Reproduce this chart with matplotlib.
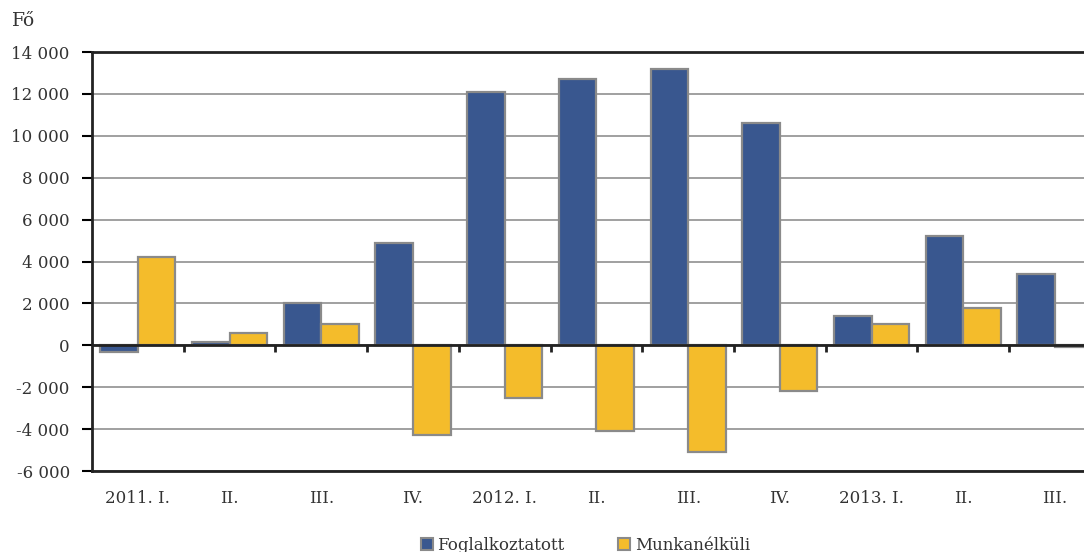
import numpy as np
import matplotlib.pyplot as plt
from matplotlib.ticker import FuncFormatter
from matplotlib.patches import Patch

quarters = ["2011. I.", "II.", "III.", "IV.", "2012. I.", "II.", "III.", "IV.",
            "2013. I.", "II.", "III."]
foglalkoztatott = [-300, 150, 2000, 4900, 12100, 12700, 13200, 10600, 1400, 5200, 3400]
munkanelkuli = [4200, 600, 1000, -4300, -2500, -4100, -5100, -2200, 1000, 1800, -100]

plt.rcParams['font.family'] = ['DejaVu Serif']

blue = '#39578f'
yellow = '#f4bc2b'
edge = '#8a8a8a'

fig = plt.figure(figsize=(10.84, 5.52), dpi=100)
ax = fig.add_axes([0.0849, 0.1467, 0.9306, 0.759])

x = np.arange(len(quarters))
w = 0.41
ax.bar(x - w / 2, foglalkoztatott, w, color=blue, edgecolor=edge, linewidth=1.6, zorder=3)
ax.bar(x + w / 2, munkanelkuli, w, color=yellow, edgecolor=edge, linewidth=1.6, zorder=3)

ax.set_xlim(-0.5, len(quarters) - 0.5)
ax.set_ylim(-6000, 14000)
ax.set_yticks(np.arange(-6000, 14001, 2000))
ax.yaxis.set_major_formatter(FuncFormatter(
    lambda v, p: '{:,.0f}'.format(v).replace(',', ' ')))
ax.grid(axis='y', color='#999999', linewidth=1.3, zorder=0)

# zero line with group separators
ax.axhline(0, color='#222222', linewidth=2, zorder=4)
ax.vlines(x[:-1] + 0.5, -300, 0, color='#222222', linewidth=2, zorder=4)

ax.set_xticks(x)
ax.set_xticklabels(quarters)
ax.tick_params(axis='x', length=0, pad=14, labelsize=12, labelcolor='#333333')
ax.tick_params(axis='y', length=7, width=1.5, labelsize=12, labelcolor='#333333', pad=9)

for s in ['left', 'bottom', 'top']:
    ax.spines[s].set_linewidth(2)
    ax.spines[s].set_color('#222222')
ax.spines['right'].set_visible(False)

fig.text(0.011, 0.962, 'Fő', fontsize=13.5, color='#333333', va='center')

handles = [Patch(facecolor=blue, edgecolor=edge, linewidth=1.5, label='Foglalkoztatott'),
           Patch(facecolor=yellow, edgecolor=edge, linewidth=1.5, label='Munkanélküli')]
fig.legend(handles=handles, loc='center', bbox_to_anchor=(0.54, 0.012), ncol=2,
           frameon=False, fontsize=12, handlelength=0.7, handleheight=0.7,
           handletextpad=0.3, columnspacing=3.2, labelcolor='#333333')

fig.savefig('out.png', dpi=100)
